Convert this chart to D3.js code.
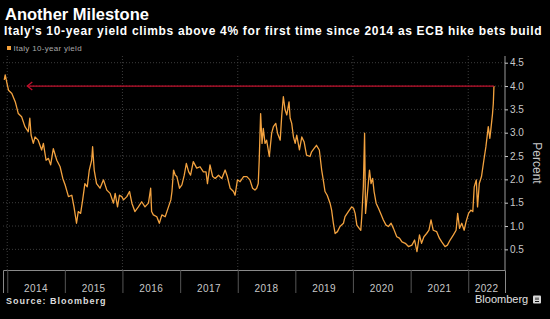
<!DOCTYPE html>
<html>
<head>
<meta charset="utf-8">
<script src="https://cdn.jsdelivr.net/npm/d3@7"></script>
<style>
  html, body { margin: 0; padding: 0; background: #000; }
  svg { display: block; font-family: "Liberation Sans", Arial, sans-serif; }
</style>
</head>
<body>
<div id="chartDiv"></div>
<script>
// Italy 10-year yield
const dates = [
  "2013-12-13","2013-12-19","2013-12-30","2014-01-09","2014-01-30","2014-02-21","2014-03-12","2014-04-02",
  "2014-04-23","2014-05-14","2014-05-24","2014-06-01","2014-06-15","2014-06-26","2014-07-16","2014-08-07",
  "2014-08-18","2014-09-04","2014-09-19","2014-10-03","2014-10-20","2014-11-11","2014-12-02","2014-12-19",
  "2015-01-03","2015-01-24","2015-02-14","2015-02-28","2015-03-16","2015-03-27","2015-04-11","2015-04-24",
  "2015-05-08","2015-05-23","2015-06-05","2015-06-20","2015-06-26","2015-07-06","2015-07-21","2015-08-12",
  "2015-09-03","2015-09-24","2015-10-15","2015-11-05","2015-11-16","2015-12-01","2015-12-13","2015-12-28",
  "2016-01-08","2016-01-29","2016-02-15","2016-03-01","2016-03-20","2016-04-11","2016-05-02","2016-05-23",
  "2016-06-14","2016-06-28","2016-07-04","2016-07-15","2016-08-06","2016-08-22","2016-09-07","2016-09-28",
  "2016-10-19","2016-11-03","2016-11-10","2016-11-20","2016-12-01","2016-12-11","2016-12-28","2017-01-12",
  "2017-01-27","2017-02-09","2017-02-24","2017-03-08","2017-03-25","2017-04-16","2017-05-07","2017-05-28",
  "2017-06-14","2017-06-23","2017-07-09","2017-07-26","2017-08-11","2017-09-01","2017-09-22","2017-10-13",
  "2017-10-27","2017-11-14","2017-12-05","2017-12-15","2017-12-30","2018-01-16","2018-02-07","2018-02-28",
  "2018-03-19","2018-04-05","2018-04-20","2018-05-01","2018-05-11","2018-05-17","2018-05-26","2018-06-04",
  "2018-06-12","2018-06-23","2018-07-03","2018-07-20","2018-08-04","2018-08-15","2018-08-30","2018-09-10",
  "2018-09-27","2018-10-07","2018-10-17","2018-10-28","2018-11-08","2018-11-22","2018-11-29","2018-12-09",
  "2018-12-20","2018-12-31","2019-01-10","2019-01-27","2019-02-11","2019-02-26","2019-03-13","2019-04-04",
  "2019-04-14","2019-04-29","2019-05-15","2019-06-02","2019-06-17","2019-06-27","2019-07-08","2019-07-22",
  "2019-08-09","2019-08-19","2019-08-30","2019-09-10","2019-09-25","2019-10-11","2019-11-02","2019-11-12",
  "2019-12-03","2019-12-24","2020-01-05","2020-01-15","2020-01-26","2020-02-10","2020-02-20","2020-02-26",
  "2020-03-07","2020-03-15","2020-03-21","2020-04-02","2020-04-15","2020-04-25","2020-05-05","2020-05-14",
  "2020-05-27","2020-06-11","2020-06-25","2020-07-12","2020-07-29","2020-08-13","2020-08-30","2020-09-14",
  "2020-10-05","2020-10-22","2020-11-07","2020-11-28","2020-12-18","2021-01-09","2021-01-26","2021-02-10",
  "2021-02-26","2021-03-11","2021-03-26","2021-04-12","2021-04-27","2021-05-10","2021-05-24","2021-06-15",
  "2021-07-02","2021-07-17","2021-08-07","2021-08-22","2021-09-08","2021-09-29","2021-10-16","2021-10-26",
  "2021-11-07","2021-11-21","2021-12-06","2021-12-18","2022-01-03","2022-01-18","2022-01-30","2022-02-08",
  "2022-02-21","2022-03-01","2022-03-12","2022-03-26","2022-04-10","2022-04-23","2022-05-08","2022-05-18",
  "2022-05-24","2022-06-04","2022-06-09","2022-06-13"
];
const yields = [
  4.13,4.24,4.06,3.91,3.84,3.66,3.41,3.34,
  3.13,3.02,3.31,2.95,2.77,2.91,2.84,2.63,
  2.77,2.41,2.45,2.31,2.66,2.41,2.27,2.02,
  1.88,1.63,1.66,1.41,1.06,1.31,1.27,1.56,
  1.91,1.84,2.20,2.41,2.70,2.20,1.91,1.81,
  1.99,1.77,1.70,1.49,1.70,1.41,1.66,1.63,
  1.56,1.63,1.74,1.49,1.31,1.41,1.52,1.41,
  1.49,1.81,1.31,1.24,1.20,1.06,1.24,1.20,
  1.41,1.56,1.74,2.20,2.09,2.06,1.81,1.88,
  2.09,2.34,2.16,2.09,2.38,2.24,2.27,2.16,
  2.16,1.91,2.31,2.06,2.02,2.09,2.02,2.20,
  2.06,1.81,1.74,1.66,1.99,1.95,2.06,2.06,
  1.99,1.81,1.77,1.81,1.91,2.41,3.41,2.77,
  3.09,2.77,2.84,2.49,2.99,3.13,3.20,2.99,
  2.84,3.38,3.77,3.49,3.38,3.66,3.31,3.20,
  2.91,2.77,2.95,2.63,2.91,2.80,2.52,2.49,
  2.59,2.66,2.73,2.63,2.20,1.99,1.74,1.66,
  1.49,1.34,1.06,0.84,0.88,0.99,1.06,1.20,
  1.31,1.41,1.38,1.27,1.02,0.95,0.91,1.20,
  1.84,2.99,1.27,1.70,2.20,1.91,2.02,1.74,
  1.49,1.38,1.27,1.13,1.02,0.99,1.06,0.95,
  0.77,0.74,0.66,0.63,0.56,0.59,0.70,0.45,
  0.81,0.63,0.77,0.84,0.91,1.13,0.91,0.88,
  0.74,0.66,0.56,0.59,0.70,0.81,0.91,1.27,
  0.95,1.06,0.91,1.09,1.27,1.34,1.31,1.84,
  1.99,1.41,1.91,2.06,2.41,2.70,3.13,2.88,
  3.06,3.41,3.63,4.00
];
const yTicks = [0.5, 1.0, 1.5, 2.0, 2.5, 3.0, 3.5, 4.0, 4.5];
const gridYears = ["2014-01-01","2016-01-01","2018-01-01","2020-01-01","2022-01-01"];
const arrowDates = ["2014-05-08", "2022-06-13"];
const arrowLevel = 4.0;

const parse = d3.timeParse("%Y-%m-%d");
const data = dates.map((d, i) => ({date: parse(d), value: yields[i]}));

const width = 550, height = 319;
const plotLeft = 3, plotRight = 505, plotTop = 56, plotBottom = 270;

const x = d3.scaleTime()
  .domain([parse("2013-12-05"), parse("2022-08-22")])
  .range([plotLeft, plotRight]);
const y = d3.scaleLinear().domain([0, 4.5]).range([272.7, 62.7]);

const svg = d3.select("#chartDiv").append("svg")
  .attr("width", width).attr("height", height)
  .attr("viewBox", [0, 0, width, height]);

svg.append("rect").attr("width", width).attr("height", height).attr("fill", "#000");

// titles
svg.append("text").attr("x", 5).attr("y", 20)
  .attr("fill", "#fff").attr("font-size", 16.5).attr("font-weight", "bold")
  .text("Another Milestone");
svg.append("text").attr("x", 4).attr("y", 35)
  .attr("fill", "#fff").attr("font-size", 12).attr("font-weight", "bold")
  .attr("letter-spacing", 0.68)
  .text("Italy's 10-year yield climbs above 4% for first time since 2014 as ECB hike bets build");

// legend
svg.append("rect").attr("x", 7).attr("y", 46).attr("width", 4).attr("height", 4).attr("fill", "#f5a13a");
svg.append("text").attr("x", 13.5).attr("y", 51)
  .attr("fill", "#a8a8a8").attr("font-size", 8).attr("letter-spacing", 0.3)
  .text("Italy 10-year yield");

// grid
svg.append("g")
  .selectAll("line")
  .data(yTicks)
  .join("line")
  .attr("x1", plotLeft).attr("x2", plotRight)
  .attr("y1", d => y(d)).attr("y2", d => y(d))
  .attr("stroke", "#3c3c3c").attr("stroke-dasharray", "1,2");

svg.append("g")
  .selectAll("line")
  .data(gridYears.map(parse))
  .join("line")
  .attr("x1", d => x(d)).attr("x2", d => x(d))
  .attr("y1", plotTop).attr("y2", plotBottom)
  .attr("stroke", "#3c3c3c").attr("stroke-dasharray", "1,2");

// x axis (year separators)
const xAxis = svg.append("g")
  .attr("transform", `translate(0,${plotBottom})`)
  .call(d3.axisBottom(x).ticks(d3.timeYear.every(1)).tickSize(23).tickFormat(""));
xAxis.select(".domain").attr("stroke", "#8a8a8a");
xAxis.selectAll(".tick line").attr("stroke", "#555");

const years = d3.timeYear.range(parse("2014-01-01"), parse("2023-01-01"));
svg.append("g")
  .selectAll("text")
  .data(years)
  .join("text")
  .attr("x", d => {
    const a = Math.max(x(d), plotLeft);
    const b = Math.min(x(d3.timeYear.offset(d, 1)), plotRight);
    return (a + b) / 2;
  })
  .attr("y", 292)
  .attr("text-anchor", "middle")
  .attr("fill", "#c8c8c8").attr("font-size", 10).attr("letter-spacing", 0.4)
  .text(d3.timeFormat("%Y"));

// right y axis
const yAxis = svg.append("g")
  .attr("transform", `translate(${plotRight},0)`)
  .call(d3.axisRight(y).tickValues(yTicks).tickSize(3).tickPadding(2).tickFormat(d3.format(".1f")));
yAxis.select(".domain").attr("d", `M0,${plotTop}V${plotBottom}`).attr("stroke", "#9a9a9a");
yAxis.selectAll(".tick line").attr("stroke", "#c8c8c8");
yAxis.selectAll(".tick text").attr("fill", "#c8c8c8").attr("font-size", 10)
  .attr("font-family", "\"Liberation Sans\", Arial, sans-serif");

svg.append("text")
  .attr("transform", "translate(533,163) rotate(90)")
  .attr("text-anchor", "middle")
  .attr("fill", "#c8c8c8").attr("font-size", 12)
  .text("Percent");

// yield line
const line = d3.line()
  .x(d => x(d.date))
  .y(d => y(d.value));

svg.append("path")
  .datum(data)
  .attr("fill", "none")
  .attr("stroke", "#f3a23f")
  .attr("stroke-width", 1.3)
  .attr("stroke-linejoin", "round")
  .attr("d", line);

// red annotation arrow at 4%
const ax0 = x(parse(arrowDates[0])), ax1 = x(parse(arrowDates[1])), ay = y(arrowLevel);
svg.append("line")
  .attr("x1", ax0).attr("x2", ax1).attr("y1", ay).attr("y2", ay)
  .attr("stroke", "#c0102c").attr("stroke-width", 1.2);
svg.append("path")
  .attr("d", `M${ax0 + 5},${ay - 4}L${ax0},${ay}L${ax0 + 5},${ay + 4}`)
  .attr("fill", "none").attr("stroke", "#c0102c").attr("stroke-width", 1.3);

// footer
svg.append("text").attr("x", 6).attr("y", 303.5)
  .attr("fill", "#dcdcdc").attr("font-size", 9).attr("font-weight", "bold")
  .attr("letter-spacing", 1)
  .text("Source: Bloomberg");
svg.append("text").attr("x", 475).attr("y", 303)
  .attr("fill", "#e0e0e0").attr("font-size", 11)
  .text("Bloomberg");
svg.append("rect").attr("x", 533).attr("y", 295.5).attr("width", 8).attr("height", 8)
  .attr("rx", 1).attr("fill", "#d8d8d8");
svg.append("path").attr("d", "M535,301.5h4M536,300v-2.5M538,300v-2.5")
  .attr("stroke", "#000").attr("stroke-width", 0.9);
</script>
</body>
</html>
